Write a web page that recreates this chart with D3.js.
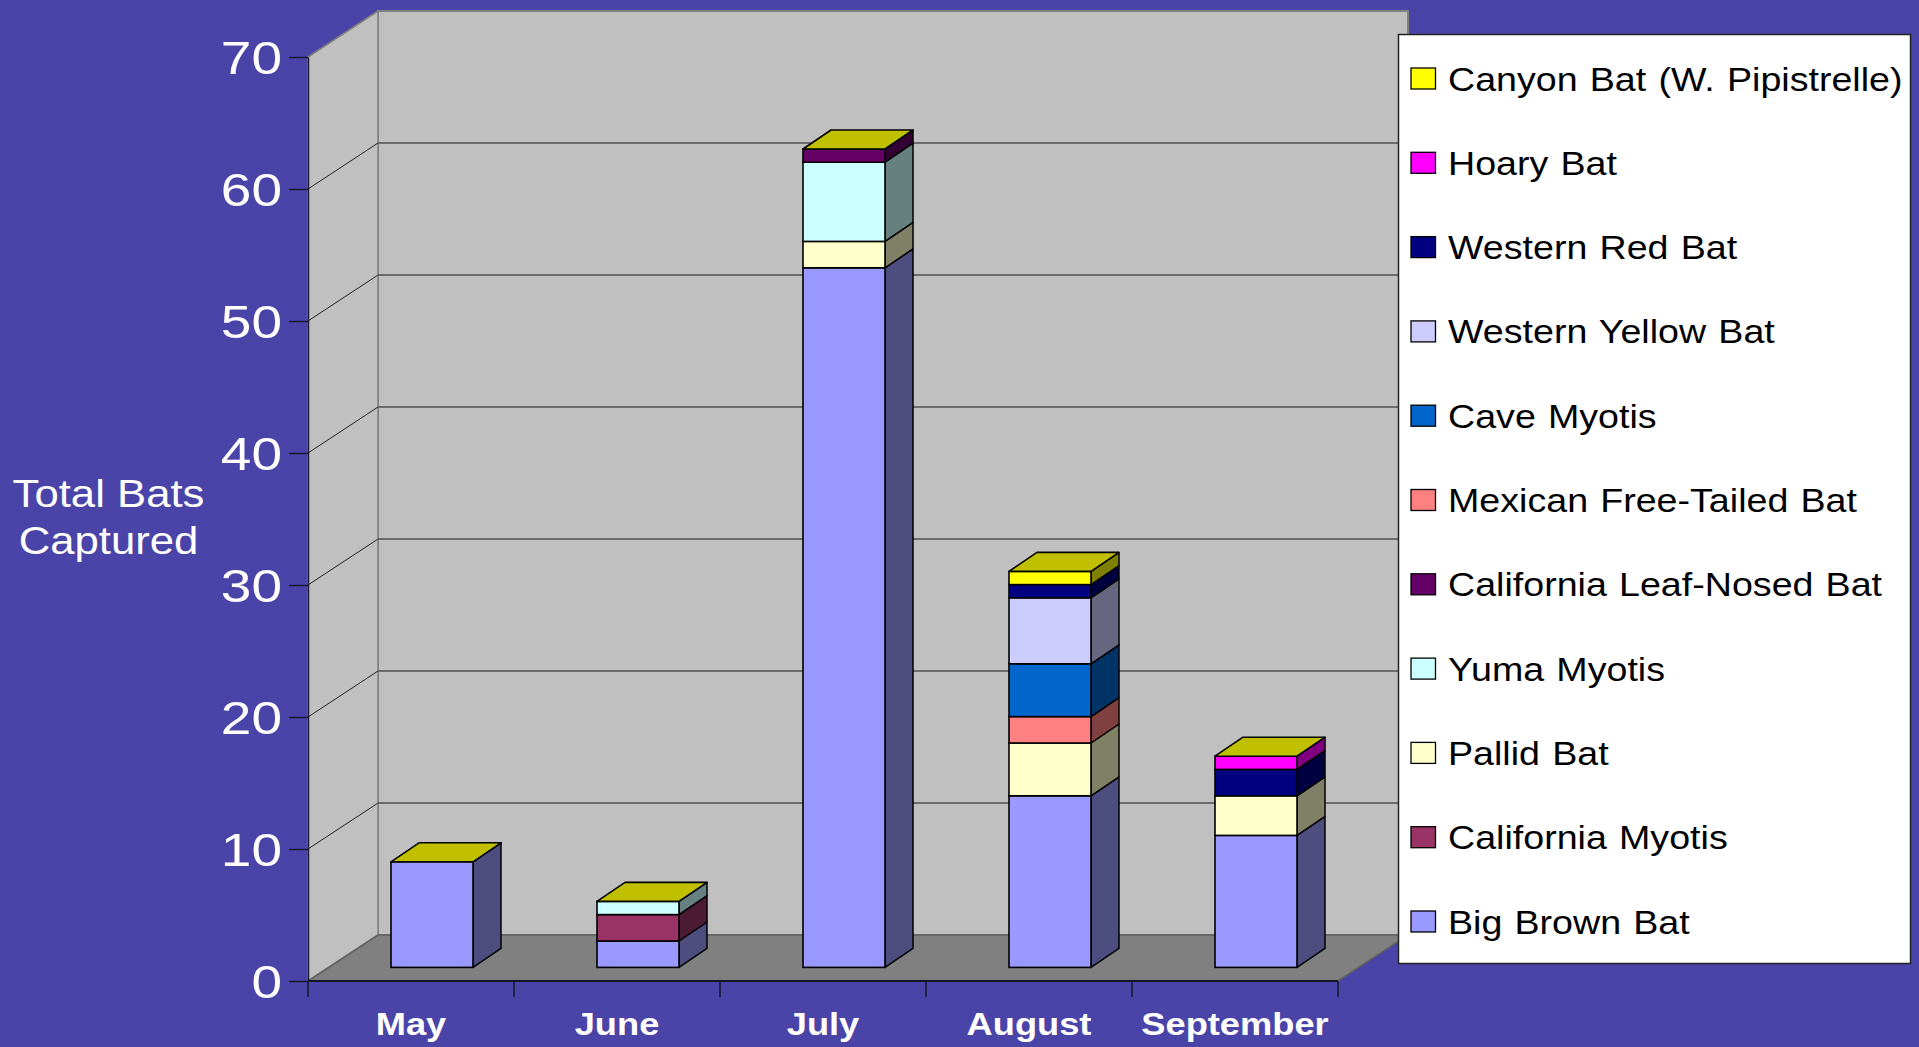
<!DOCTYPE html>
<html><head><meta charset="utf-8">
<script src="https://d3js.org/d3.v7.min.js"></script>
<style>
html,body{margin:0;padding:0;background:#4B44A8;overflow:hidden}
svg{display:block}
text{font-family:"Liberation Sans",Arial,sans-serif}
</style></head>
<body><svg id="c" width="1919" height="1047"></svg>
<script>
const months = ["May","June","July","August","September"];
const yTicks = [0,10,20,30,40,50,60,70];
const seriesNames = ["Big Brown Bat","California Myotis","Pallid Bat","Yuma Myotis","California Leaf-Nosed Bat","Mexican Free-Tailed Bat","Cave Myotis","Western Yellow Bat","Western Red Bat","Hoary Bat","Canyon Bat (W. Pipistrelle)"];
const seriesColors = ["#9999FF","#993366","#FFFFCC","#CCFFFF","#660066","#FF8080","#0066CC","#CCCCFF","#000080","#FF00FF","#FFFF00"];
const bigBrown = [8,2,53,13,10];
const calMyotis = [0,2,0,0,0];
const pallid = [0,0,2,4,3];
const yuma = [0,1,6,0,0];
const leafNosed = [0,0,1,0,0];
const freeTailed = [0,0,0,2,0];
const caveMyotis = [0,0,0,4,0];
const yellowBat = [0,0,0,5,0];
const redBat = [0,0,0,1,2];
const hoary = [0,0,0,0,1];
const canyon = [0,0,0,1,0];
const seriesValues = [bigBrown,calMyotis,pallid,yuma,leafNosed,freeTailed,caveMyotis,yellowBat,redBat,hoary,canyon];

const svg = d3.select("#c");
const x0=308,x1=1338,yBase=981,yTop=57,dx=70,dy=46;
const barDx=28,barDy=19,barW=82,barOffset=83,barLift=13.6;
const xS = d3.scaleBand().domain(months).range([x0,x1]).padding(0);
const yS = d3.scaleLinear().domain([0,70]).range([yBase,yTop]);

// walls and floor
const poly=(pts,fill,stroke,w)=>svg.append("polygon").attr("points",pts.map(p=>p.join(",")).join(" ")).attr("fill",fill).attr("stroke",stroke||"none").attr("stroke-width",w||0);
poly([[x0+dx,yTop-dy],[x1+dx,yTop-dy],[x1+dx,yBase-dy],[x0+dx,yBase-dy]],"#C0C0C0","#808080",2);
poly([[x0,yBase],[x0+dx,yBase-dy],[x0+dx,yTop-dy],[x0,yTop]],"#C0C0C0","#808080",1.5);
poly([[x0,yBase],[x1,yBase],[x1+dx,yBase-dy],[x0+dx,yBase-dy]],"#808080","#606060",1.5);

// gridlines
yTicks.slice(1).forEach(t=>{
  const y=yS(t);
  svg.append("line").attr("x1",x0+dx).attr("x2",x1+dx).attr("y1",y-dy).attr("y2",y-dy).attr("stroke",t===70?"#808080":"#505050").attr("stroke-width",1.4);
  svg.append("line").attr("x1",x0).attr("x2",x0+dx).attr("y1",y).attr("y2",y-dy).attr("stroke",t===70?"#808080":"#222").attr("stroke-width",1);
});

// axes
const yAxis = d3.axisLeft(yS).tickValues(yTicks).tickSize(19).tickSizeOuter(0).tickFormat(d3.format("d"));
const gy = svg.append("g").attr("transform",`translate(${x0},0)`).call(yAxis);
gy.select(".domain").attr("stroke","#1a1a2e").attr("stroke-width",1.5);
gy.selectAll(".tick line").attr("stroke","#1a1a2e").attr("stroke-width",1.5);
gy.selectAll(".tick text")
  .attr("fill","#fff").attr("font-size",47).attr("text-anchor","end").attr("dy",0)
  .attr("x",null).attr("y",null)
  .attr("transform","translate(-26,16) scale(1.17,1)");

const xAxis = d3.axisBottom(xS).tickSize(0).tickSizeOuter(0);
const gx = svg.append("g").attr("transform",`translate(0,${yBase})`).call(xAxis);
gx.select(".domain").remove();
gx.selectAll(".tick text")
  .attr("fill","#fff").attr("font-size",31).attr("font-weight","bold").attr("text-anchor","middle")
  .attr("y",null).attr("dy",0)
  .attr("transform","translate(0,54) scale(1.17,1)");
svg.append("line").attr("x1",x0).attr("x2",x1).attr("y1",yBase).attr("y2",yBase).attr("stroke","#15152a").attr("stroke-width",2);
months.forEach((m,i)=>{
  const xx=xS(m);
  svg.append("line").attr("x1",xx).attr("x2",xx).attr("y1",yBase).attr("y2",yBase+16).attr("stroke","#15152a").attr("stroke-width",1.5);
});
svg.append("line").attr("x1",x1).attr("x2",x1).attr("y1",yBase).attr("y2",yBase+16).attr("stroke","#15152a").attr("stroke-width",1.5);

// y title
const yt = svg.append("g").attr("transform","translate(108.5,0)");
["Total Bats","Captured"].forEach((s,i)=>{
  yt.append("text").text(s).attr("text-anchor","middle").attr("fill","#fff").attr("font-size",38)
    .attr("transform",`translate(0,${507+i*46.5}) scale(1.15,1)`);
});

// stacked 3D bars
const stacked = d3.stack().keys(d3.range(seriesNames.length)).value((d,k)=>seriesValues[k][d])(d3.range(months.length));
const barY = v => yS(v)-barLift;
const darken = c => { const r=d3.rgb(c); return d3.rgb(r.r/2,r.g/2,r.b/2).formatHex(); };
months.forEach((m,mi)=>{
  const g=svg.append("g");
  const bx=xS(m)+barOffset;
  let topVal=0;
  stacked.forEach((s,si)=>{
    const [a,b]=s[mi];
    if(b<=a) return;
    topVal=b;
    const y0=barY(a), y1=barY(b);
    g.append("polygon").attr("points",[[bx+barW,y0],[bx+barW+barDx,y0-barDy],[bx+barW+barDx,y1-barDy],[bx+barW,y1]].map(p=>p.join(",")).join(" "))
      .attr("fill",darken(seriesColors[si])).attr("stroke","#000").attr("stroke-width",1.5).attr("stroke-linejoin","round");
    g.append("rect").attr("x",bx).attr("y",y1).attr("width",barW).attr("height",y0-y1)
      .attr("fill",seriesColors[si]).attr("stroke","#000").attr("stroke-width",1.6);
  });
  const yt0=barY(topVal);
  g.append("polygon").attr("points",[[bx,yt0],[bx+barDx,yt0-barDy],[bx+barW+barDx,yt0-barDy],[bx+barW,yt0]].map(p=>p.join(",")).join(" "))
    .attr("fill","#C0C000").attr("stroke","#000").attr("stroke-width",1.6).attr("stroke-linejoin","round");
});

// legend
svg.append("rect").attr("x",1398.5).attr("y",34.5).attr("width",512).attr("height",929).attr("fill","#fff").attr("stroke","#222").attr("stroke-width",1.5);
const legendOrder = d3.range(seriesNames.length).reverse();
const ly = d3.scalePoint().domain(legendOrder).range([78.5,921.5]);
legendOrder.forEach(si=>{
  const cy=ly(si);
  svg.append("rect").attr("x",1411).attr("y",cy-10.5).attr("width",24.5).attr("height",21)
    .attr("fill",seriesColors[si]).attr("stroke","#000").attr("stroke-width",1.3);
  svg.append("text").text(seriesNames[si]).attr("fill","#000").attr("font-size",33).attr("word-spacing","1.5px")
    .attr("transform",`translate(1448,${cy+12}) scale(1.14,1)`);
});
</script></body></html>
